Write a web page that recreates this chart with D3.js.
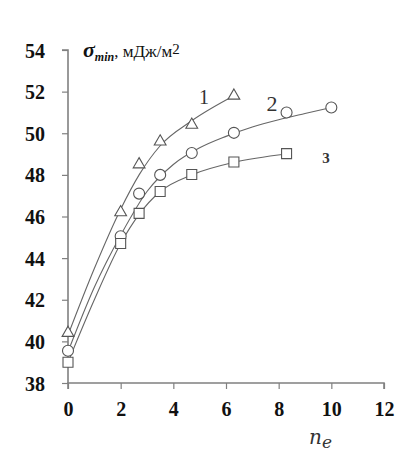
<!DOCTYPE html>
<html><head><meta charset="utf-8">
<script src="https://cdn.jsdelivr.net/npm/d3@7"></script>
<style>body{margin:0;background:#fff}svg{display:block}</style>
</head><body>
<svg id="c" width="405" height="462"></svg>
<script>
// data points
const xs1 = [0, 2, 2.7, 3.5, 4.7, 6.3];
const ys1 = [40.45, 46.25, 48.55, 49.65, 50.45, 51.85];
const xs2 = [0, 2, 2.7, 3.5, 4.7, 6.3, 8.3, 10];
const ys2 = [39.55, 45.05, 47.1, 48.0, 49.05, 50.02, 51.0, 51.24];
const xs3 = [0, 2, 2.7, 3.5, 4.7, 6.3, 8.3];
const ys3 = [39.0, 44.7, 46.15, 47.2, 48.02, 48.62, 49.02];
// fitted curves
const fitX1 = [0, 1, 2, 2.7, 3.5, 4.7, 6.3];
const fitY1 = [40.3, 43.5, 46.35, 48.0, 49.4, 50.6, 51.8];
const fitX2 = [0, 1, 2, 3, 4, 5, 6, 7, 8, 9, 10];
const fitY2 = [39.5, 42.6, 45.1, 47.2, 48.5, 49.3, 49.85, 50.3, 50.65, 50.95, 51.24];
const fitX3 = [0, 1, 2, 2.7, 3.5, 4.7, 6.3, 8.3];
const fitY3 = [39.0, 42.0, 44.7, 46.1, 47.2, 48.0, 48.6, 49.0];
const xTicks = [0, 2, 4, 6, 8, 10, 12];
const yTicks = [38, 40, 42, 44, 46, 48, 50, 52, 54];
const curveLabels = ["1", "2", "3"];

const svg = d3.select("#c");
const x = d3.scaleLinear().domain([0, 12]).range([68, 384]);
const y = d3.scaleLinear().domain([38, 54]).range([383, 50]);
const axisColor = "#808080";
const ink = "#555";
const serif = "'Liberation Serif', 'Times New Roman', serif";

// axes
const gx = svg.append("g").attr("transform", `translate(0,${y(38)})`)
  .call(d3.axisBottom(x).tickValues(xTicks).tickSize(6).tickPadding(13).tickFormat(d3.format("d")));
const gy = svg.append("g").attr("transform", `translate(${x(0)},0)`)
  .call(d3.axisLeft(y).tickValues(yTicks).tickSize(6).tickPadding(17).tickFormat(d3.format("d")));
[gx, gy].forEach(g => {
  g.select(".domain").attr("stroke", axisColor).attr("stroke-width", 1.6);
  g.selectAll(".tick line").attr("stroke", axisColor).attr("stroke-width", 1.2);
  g.selectAll(".tick text").attr("fill", "#111")
    .style("font-family", serif)
    .style("font-weight", "bold").style("font-size", "20px");
});
gx.select(".domain").attr("d", `M${x(0)},6V0H${x(12)}V6`);
gy.select(".domain").attr("d", `M-6,${y(54)}H0V${y(38)}`);
gy.selectAll(".tick text").attr("dy", "0.35em");

// curves
const line = d3.line().x(d => x(d[0])).y(d => y(d[1])).curve(d3.curveMonotoneX);
const fits = [[fitX1, fitY1], [fitX2, fitY2], [fitX3, fitY3]];
fits.forEach(([fx, fy]) => {
  svg.append("path").datum(fx.map((v, i) => [v, fy[i]]))
    .attr("d", line).attr("fill", "none").attr("stroke", "#666").attr("stroke-width", 1.1);
});

// markers
const sym = [d3.symbolTriangle, d3.symbolCircle, d3.symbolSquare];
const sizes = [60, 95, 100];
const pts = [[xs1, ys1], [xs2, ys2], [xs3, ys3]];
pts.forEach(([px, py], k) => {
  svg.append("g").selectAll("path").data(px.map((v, i) => [v, py[i]])).join("path")
    .attr("transform", d => `translate(${x(d[0])},${y(d[1]) + (k === 0 ? 1 : 0)})`)
    .attr("d", d3.symbol(sym[k], sizes[k]))
    .attr("fill", "#fff").attr("stroke", ink).attr("stroke-width", 1.1);
});

// curve labels
svg.append("text").attr("x", 204).attr("y", 104).attr("text-anchor", "middle")
  .style("font-family", serif).style("font-size", "20px").attr("fill", "#333").text(curveLabels[0]);
svg.append("text").attr("x", 272).attr("y", 111).attr("text-anchor", "middle")
  .style("font-family", serif).style("font-size", "22px").attr("fill", "#333").text(curveLabels[1]);
svg.append("text").attr("x", 326).attr("y", 163).attr("text-anchor", "middle")
  .style("font-family", serif).style("font-size", "15px").style("font-weight", "bold").attr("fill", "#333").text(curveLabels[2]);

// y title
const t = svg.append("text").attr("x", 83).attr("y", 57)
  .style("font-family", serif).attr("fill", "#111");
t.append("tspan").style("font-size", "22px").style("font-weight", "bold").style("font-style", "italic").text("σ");
t.append("tspan").attr("dy", 4).style("font-size", "12px").style("font-weight", "bold").style("font-style", "italic").text("min");
t.append("tspan").attr("dy", -4).style("font-size", "17px").text(", мДж/м");
t.append("tspan").attr("dy", -3).style("font-size", "15px").text("2");

// x title
const tx = svg.append("text").attr("x", 309).attr("y", 444)
  .style("font-family", "'DejaVu Serif', serif").style("font-style", "italic").attr("fill", "#333");
tx.append("tspan").style("font-size", "20px").text("n");
tx.append("tspan").attr("dy", 4).style("font-size", "17px").text("e");
</script>
</body></html>
